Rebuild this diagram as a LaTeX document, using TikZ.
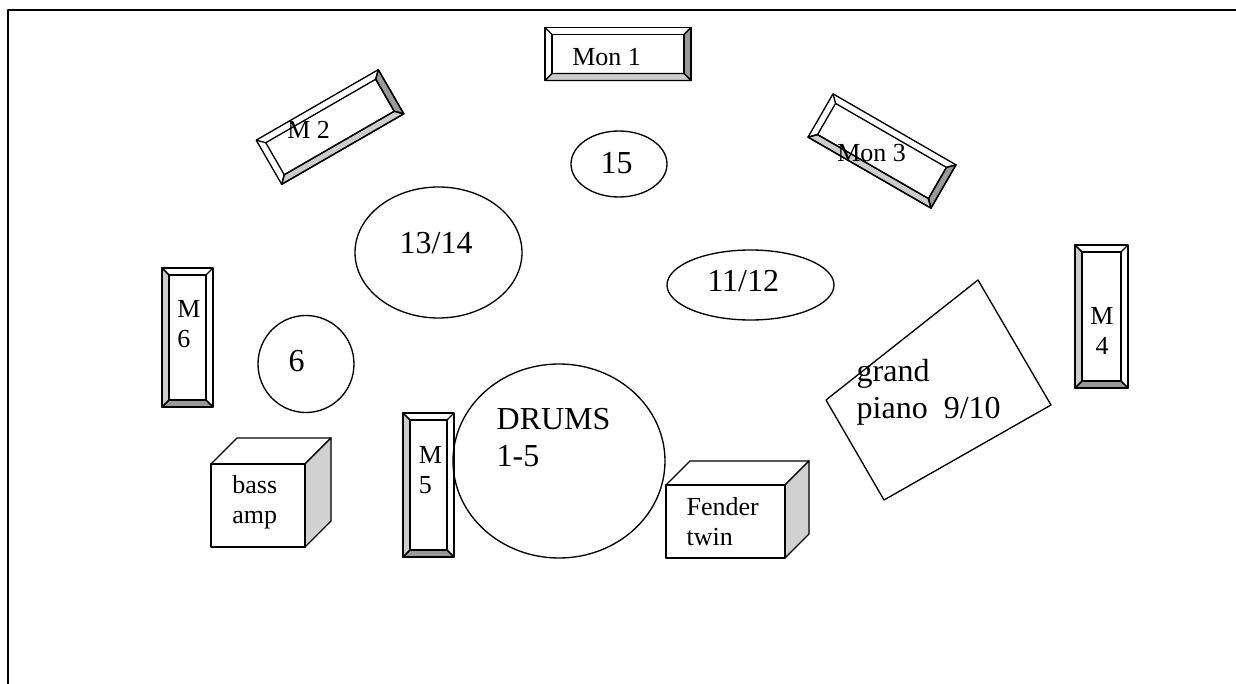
\documentclass[tikz,border=0pt]{standalone}
\usepackage{fontspec}
\setmainfont{Liberation Serif}
\usetikzlibrary{positioning}

% monitor wedge: centre, length, depth, angle
\newcommand{\bevel}[4]{%
  \begin{scope}[shift={#1}, rotate=#4]
    \filldraw[fill=black!40] ({#2/2},{-#3/2}) -- ({#2/2},{#3/2}) -- ({#2/2-7},{#3/2-7}) -- ({#2/2-7},{-#3/2+7}) -- cycle;
    \filldraw[fill=black!20] ({#2/2},{#3/2}) -- ({-#2/2},{#3/2}) -- ({-#2/2+7},{#3/2-7}) -- ({#2/2-7},{#3/2-7}) -- cycle;
    \draw ({-#2/2},{-#3/2}) rectangle ({#2/2},{#3/2});
    \draw ({-#2/2+7},{-#3/2+7}) rectangle ({#2/2-7},{#3/2-7});
    \draw ({-#2/2},{-#3/2}) -- ++(7,7) ({#2/2},{-#3/2}) -- ++(-7,7)
          ({-#2/2},{#3/2}) -- ++(7,-7) ({#2/2},{#3/2}) -- ++(-7,-7);
  \end{scope}}

% amp cube: front left, top, right, bottom, depth
\newcommand{\ampbox}[5]{%
  \draw (#1,#2) -- ++(#5,-#5) -- (#3+#5,#2-#5) -- (#3,#2);
  \filldraw[fill=black!18] (#3,#2) -- ++(#5,-#5) -- (#3+#5,#4-#5) -- (#3,#4) -- cycle;
  \draw (#1,#2) rectangle (#3,#4);}

\begin{document}
\begin{tikzpicture}[x=0.75pt,y=-0.75pt,line width=1pt,line join=round,
  small/.style={font=\fontsize{19.5}{22.5}\selectfont,inner sep=0,align=left},
  big/.style={font=\fontsize{24}{27.6}\selectfont,inner sep=0,align=left}]
  \useasboundingbox (0,0) rectangle (1236,684);
  \draw[line width=2pt] (8,684) -- (8,10) -- (1236,10);

  \bevel{(618,54)}{146}{53}{0}
  \bevel{(330,127)}{141}{51}{30}
  \bevel{(882,151)}{142}{50}{-30}
  \bevel{(187.5,337.5)}{139}{51}{-90}
  \bevel{(428.5,485)}{144}{51}{-90}
  \bevel{(1101.5,316.5)}{143}{53}{-90}

  \draw (619,164) ellipse [x radius=48, y radius=33];
  \draw (438.5,252.5) ellipse [x radius=83.5, y radius=65.5];
  \draw (750.5,285) ellipse [x radius=83.5, y radius=35];
  \draw (306,364) ellipse [x radius=48, y radius=48.5];
  \draw (559,461) ellipse [x radius=106, y radius=97];
  \draw (978,280) -- (1051,405) -- (884,500) -- (826,400) -- cycle;

  \ampbox{211}{464}{305}{547}{26}
  \ampbox{666}{485}{785}{558}{24}

  \node[small,anchor=base west] (mon1) at (571.7,66) {Mon 1};
  \node[small,anchor=base west] (m2) at (286.7,138.3) {M 2};
  \node[small,anchor=base west] (mon3) at (836.7,161.7) {Mon 3};
  \node[small,anchor=base west] (m6) at (176.7,348) {M\\6};
  \node[small,anchor=base west] (m5) at (418.3,493.3) {M\\5};
  \node[small,align=center,anchor=base] (m4) at (1102,355) {M\\4};
  \node[big,anchor=base west] (n15) at (600,174) {15};
  \node[big,anchor=base west] (n1314) at (399,254) {13/14};
  \node[big,anchor=base west] (n1112) at (706.7,291.7) {11/12};
  \node[big,anchor=base west] (n6) at (288,372) {6};
  \node[big,anchor=base west] (drums) at (496,466.7) {DRUMS\\1-5};
  \node[big,anchor=base west] (piano) at (856,418) {grand\\piano~~9/10};
  \node[small,anchor=base west] (bass) at (231.7,523) {bass\\amp};
  \node[small,anchor=base west] (fender) at (686,545) {Fender\\twin};
\end{tikzpicture}
\end{document}
